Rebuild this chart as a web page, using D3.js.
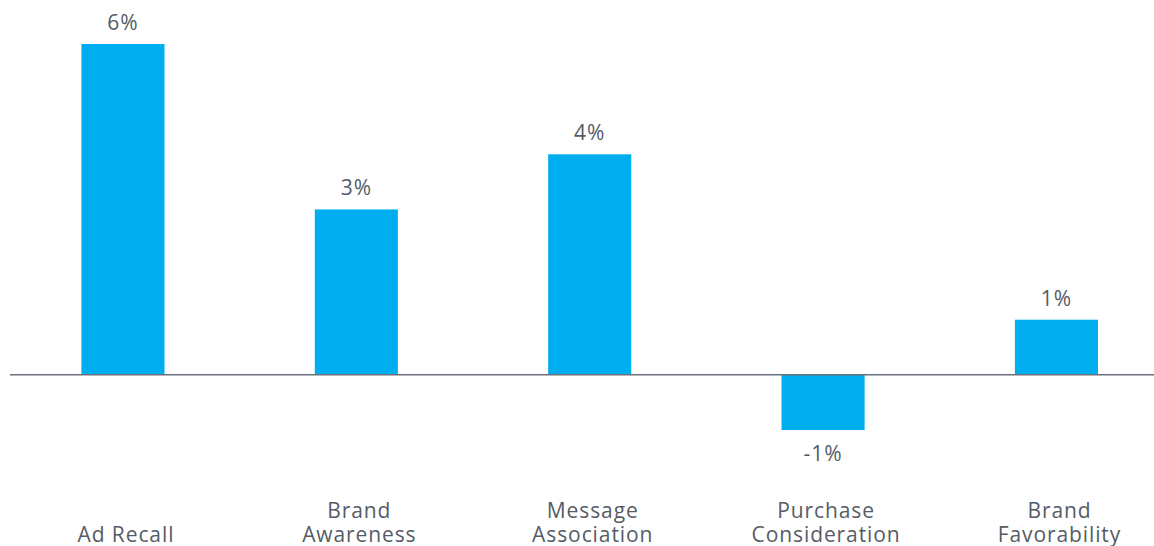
<!DOCTYPE html>
<html>
<head>
<meta charset="utf-8">
<script src="https://cdn.jsdelivr.net/npm/d3@7"></script>
<style>
  body { margin: 0; background: #fff; }
  text { font-family: "Open Sans", "Noto Sans", sans-serif; fill: #555c66; }
</style>
</head>
<body>
<script>
// categories, split into label lines
var categories = ["Ad Recall", "Brand Awareness", "Message Association", "Purchase Consideration", "Brand Favorability"]
var labelLines = [["Ad Recall"], ["Brand", "Awareness"], ["Message", "Association"], ["Purchase", "Consideration"], ["Brand", "Favorability"]]
var values = [6, 3, 4, -1, 1]

var width = 1154, height = 546

var svg = d3.select("body")
  .append("svg")
  .attr("width", width)
  .attr("height", height)

// band scale for the bars
var x = d3.scaleBand()
  .domain(categories)
  .range([11.4, 1168])
  .paddingInner(0.644)
  .paddingOuter(0.3)

var y = d3.scaleLinear()
  .domain([-1, 6])
  .range([430, 44])

// bars
svg.selectAll("rect.bar")
  .data(values)
  .enter()
  .append("rect")
    .attr("class", "bar")
    .attr("x", function(d, i){ return x(categories[i]) })
    .attr("width", x.bandwidth())
    .attr("y", function(d){ return Math.min(y(d), y(0)) })
    .attr("height", function(d){ return Math.abs(y(d) - y(0)) })
    .attr("fill", "#00aeef")

// zero line
svg.append("line")
  .attr("x1", 10)
  .attr("x2", width)
  .attr("y1", y(0))
  .attr("y2", y(0))
  .attr("stroke", "#6b7079")
  .attr("stroke-width", 1.5)

// value labels
svg.selectAll("text.val")
  .data(values)
  .enter()
  .append("text")
    .attr("class", "val")
    .attr("x", function(d, i){ return x(categories[i]) + x.bandwidth()/2 })
    .attr("y", function(d){ return d >= 0 ? y(d) - 14 : y(d) + 31 })
    .attr("text-anchor", "middle")
    .style("font-size", "21px")
    .style("letter-spacing", "1px")
    .text(function(d){ return d + "%" })

// category labels, bottom aligned
var cats = svg.selectAll("text.cat")
  .data(labelLines)
  .enter()
  .append("text")
    .attr("class", "cat")
    .attr("text-anchor", "middle")
    .style("font-size", "21px")
    .style("letter-spacing", "0.9px")
    .attr("transform", function(d, i){ return "translate(" + (x(categories[i]) + x.bandwidth()/2 + 3) + ",0)" })

cats.selectAll("tspan")
  .data(function(d){ return d.map(function(t, j){ return {t: t, j: j, n: d.length} }) })
  .enter()
  .append("tspan")
    .attr("x", 0)
    .attr("y", function(d){ return 542 - (d.n - 1 - d.j) * 24 })
    .text(function(d){ return d.t })
</script>
</body>
</html>
